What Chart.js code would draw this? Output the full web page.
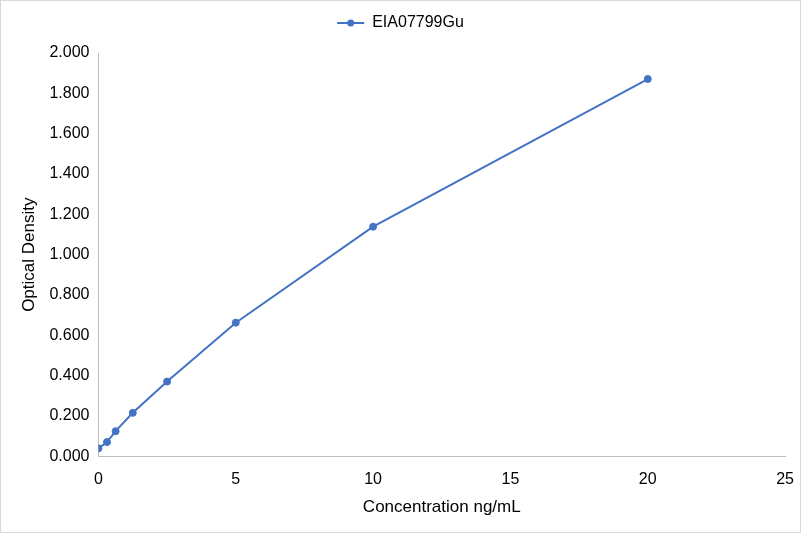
<!DOCTYPE html>
<html><head><meta charset="utf-8">
<script src="https://cdn.jsdelivr.net/npm/chart.js@4"></script>
<style>
html,body{margin:0;padding:0;background:#fff;}
#wrap{position:absolute;left:0;top:0;width:799px;height:531px;border:1px solid #d9d9d9;}
canvas{display:block;}
</style></head><body>
<div id="wrap"><canvas id="c" width="799" height="531"></canvas></div>
<script>
const seriesName = "EIA07799Gu";
const concentrations = [0, 0.3125, 0.625, 1.25, 2.5, 5, 10, 20];
const opticalDensity = [0.040, 0.071, 0.125, 0.216, 0.371, 0.663, 1.139, 1.871];
const xTitle = "Concentration ng/mL";
const yTitle = "Optical Density";

const pts = concentrations.map((x, i) => ({x: x, y: opticalDensity[i]}));
const FONT = "'Liberation Sans', Arial, sans-serif";
const BLUE = '#4472C4';
const LEGEND_SHIFT = -7;
Chart.defaults.font.family = FONT;
Chart.defaults.color = '#000';

const legendPlugin = {
  id: 'legendExtra',
  beforeInit(chart) {
    const lg = chart.legend;
    if (lg && !lg._patched) {
      const origFit = lg.fit;
      lg.fit = function() { origFit.call(this); this.height += 12; };
      const origDraw = lg.draw;
      lg.draw = function() {
        const ctx = this.ctx;
        ctx.save(); ctx.translate(LEGEND_SHIFT, 0);
        origDraw.apply(this, arguments);
        ctx.restore();
      };
      lg._patched = true;
    }
  },
  afterDraw(chart) {
    const lg = chart.legend;
    if (!lg || !lg.legendHitBoxes || !lg.legendHitBoxes.length) return;
    const hb = lg.legendHitBoxes[0];
    const bw = lg.options.labels.boxWidth;
    const ctx = chart.ctx;
    ctx.save();
    ctx.fillStyle = BLUE;
    ctx.beginPath();
    ctx.arc(hb.left + bw / 2 + LEGEND_SHIFT, hb.top + hb.height / 2, 3.5, 0, Math.PI * 2);
    ctx.fill();
    ctx.restore();
  }
};

new Chart(document.getElementById('c'), {
  type: 'line',
  data: { datasets: [{
    label: seriesName, data: pts,
    borderColor: BLUE, backgroundColor: BLUE,
    borderWidth: 2, pointRadius: 3.5, pointBorderWidth: 1, pointHoverRadius: 3.5, tension: 0
  }]},
  plugins: [legendPlugin],
  options: {
    responsive: false, animation: false,
    layout: { padding: { left: 14, right: 0, top: 6, bottom: 14 } },
    plugins: {
      legend: { position: 'top', labels: { font: { size: 16 }, boxWidth: 27, boxHeight: 2, padding: 8,
        generateLabels: (chart) => [{ text: seriesName, fillStyle: BLUE, strokeStyle: BLUE, lineWidth: 0, datasetIndex: 0 }] } },
      tooltip: { enabled: false }
    },
    scales: {
      x: { type: 'linear', min: 0, max: 25,
        ticks: { stepSize: 5, font: { size: 16 }, padding: 6 },
        grid: { display: false, drawTicks: true, tickLength: 8, tickColor: 'rgba(0,0,0,0)' },
        border: { display: true, color: '#bfbfbf' },
        title: { display: true, text: xTitle, font: { size: 17 }, padding: { top: 2, bottom: 0 } } },
      y: { min: 0, max: 2,
        ticks: { stepSize: 0.2, font: { size: 16 }, padding: 9, callback: v => v.toFixed(3) },
        grid: { display: false, drawTicks: false },
        border: { display: true, color: '#bfbfbf' },
        title: { display: true, text: yTitle, font: { size: 17 }, padding: { top: 4, bottom: 1 } } }
    }
  }
});
</script></body></html>
